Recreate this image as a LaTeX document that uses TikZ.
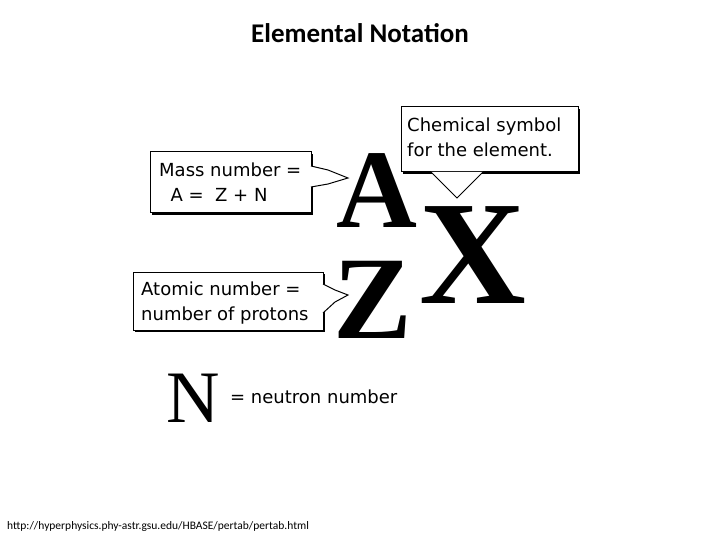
\documentclass[tikz,border=0pt]{standalone}
\usepackage{fontspec}
\setmainfont{Liberation Serif}
\newfontfamily\calfnt{Carlito}
\newfontfamily\boxfnt{DejaVu Sans}
\begin{document}
\begin{tikzpicture}[x=1pt,y=-1pt,
  lbl/.style={font=\boxfnt\fontsize{18}{25}\selectfont,align=left,inner sep=0pt,anchor=north west},
  big/.style={inner sep=0pt,anchor=center}]
\useasboundingbox (0,0) rectangle (720,540);
\node[font=\calfnt\bfseries\fontsize{27}{30}\selectfont] (title) at (360,33) {Elemental Notation};
% Mass number box
\fill (152,154) rectangle (313,215);
\draw[fill=white,line width=1pt] (150,152) rectangle (311,213);
\fill[white] (311,166) -- (348,178) -- (311,187) -- cycle;
\draw[line width=1pt] (311,166) -- (328,170) -- (348,178) -- (328,184) -- (311,187);
\node[lbl] (mass) at (159,163) {Mass number =\\\ \ A =\ \ Z + N};
% Chemical symbol box
\fill (403,109) rectangle (580,174);
\draw[fill=white,line width=1pt] (401,107) rectangle (578,172);
\fill[white] (431,172) -- (457,198) -- (483,172) -- cycle;
\draw[line width=1pt] (431,172) -- (457,198) -- (483,172);
\node[lbl] (chem) at (407,118) {Chemical symbol\\for the element.};
% Atomic number box
\fill (135,274) rectangle (325,332);
\draw[fill=white,line width=1pt] (133,272) rectangle (323,330);
\fill[white] (323,284) -- (348,295) -- (323,313) -- cycle;
\draw[line width=1pt] (323,284) -- (335,290) -- (348,295) -- (335,302) -- (323,313);
\node[lbl] (atom) at (141,282) {Atomic number =\\number of protons};
% Letters
\node[big,font=\bfseries\fontsize{112}{112}\selectfont] (A) at (377,191) {A};
\node[big,font=\bfseries\fontsize{148}{148}\selectfont] (X) at (473,255) {X};
\node[big,font=\bfseries\fontsize{118}{118}\selectfont] (Z) at (373,300) {Z};
\node[big,font=\fontsize{74}{74}\selectfont] (N) at (193,398) {N};
\node[lbl,anchor=west] (neu) at (230,397) {= neutron number};
\node[font=\calfnt\fontsize{11.5}{13}\selectfont,anchor=west,inner sep=0pt] (url) at (7,526) {http://hyperphysics.phy-astr.gsu.edu/HBASE/pertab/pertab.html};
\end{tikzpicture}
\end{document}
